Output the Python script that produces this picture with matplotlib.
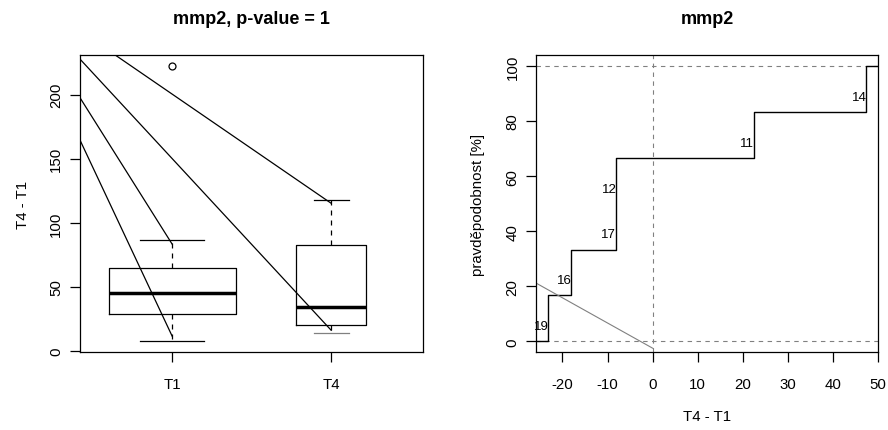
import matplotlib
matplotlib.use("Agg")
import matplotlib.pyplot as plt
import numpy as np

plt.rcParams['font.family'] = ['Liberation Sans', 'DejaVu Sans']

# ---- left panel data (boxplot) ----
groups = ["T1", "T4"]
whislo = [8.0, 14.0]
q1 = [28.8, 20.8]
med = [45.2, 34.3]
q3 = [65.2, 82.4]
whishi = [86.3, 118.0]
fliers = [[222.0], []]
box_widths = [0.8, 0.44]

# diagonal segments (x0, y0) -> (x1, y1)
seg_x0 = [0.42, 0.42, 0.42, 0.639]
seg_y0 = [164.5, 197.5, 227.6, 231.0]
seg_x1 = [1.0, 1.0, 2.0, 2.0]
seg_y1 = [11.7, 83.4, 16.4, 115.3]

# ---- right panel data (ECDF) ----
step_x = [-23.2, -18.05, -8.2, -8.07, 22.5, 47.4]
step_labels = ["19", "16", "17", "12", "11", "14"]
gray_x = [-25.8, 0.0]
gray_y = [21.1, -2.5]
xticks_r = [-20, -10, 0, 10, 20, 30, 40, 50]

fig = plt.figure(figsize=(8.88, 4.31), dpi=100)
W, H = 888, 431

def px_axes(x0, x1, y0, y1):
    return fig.add_axes([x0 / W, (H - y1) / H, (x1 - x0) / W, (y1 - y0) / H])

tick_fs = 10.8
title_fs = 13.0

# ================= left panel =================
ax1 = px_axes(80, 423.3, 56, 353)
stats = []
for i in range(len(groups)):
    stats.append(dict(label=groups[i], whislo=whislo[i], q1=q1[i], med=med[i],
                      q3=q3[i], whishi=whishi[i], fliers=fliers[i]))
bp = ax1.bxp(stats, positions=[1, 2], widths=box_widths,
             capwidths=[w / 2 for w in box_widths],
             boxprops=dict(color='black', linewidth=0.9),
             medianprops=dict(color='black', linewidth=2.5, solid_capstyle='butt'),
             whiskerprops=dict(color='black', linewidth=0.9, linestyle=(0, (4, 4))),
             capprops=dict(color='black', linewidth=0.9),
             flierprops=dict(marker='o', markerfacecolor='none',
                             markeredgecolor='black', markersize=5, markeredgewidth=0.9))
bp['caps'][2].set_color('#808080')
for a, b, c, d in zip(seg_x0, seg_y0, seg_x1, seg_y1):
    s = (d - b) / (c - a)
    xs = np.array([0.0, c])
    ys = b + s * (xs - a)
    ax1.plot(xs, ys, color='black', linewidth=0.9)
ax1.set_xlim(0.42, 2.58)
ax1.set_ylim(-0.6, 230.8)
ax1.set_yticks([0, 50, 100, 150, 200])
ax1.set_xticks([1, 2])
ax1.set_xticklabels(groups)
ax1.tick_params(axis='y', labelrotation=90, labelsize=tick_fs, length=7, width=0.9, pad=5)
ax1.tick_params(axis='x', labelsize=tick_fs, length=7, width=0.9, pad=11)
for lab in ax1.get_yticklabels():
    lab.set_va('center')
ax1.set_ylabel("T4 - T1", fontsize=tick_fs, labelpad=14)
ax1.set_title("mmp2, p-value = 1", fontsize=title_fs, fontweight='bold', pad=23)
for sp in ax1.spines.values():
    sp.set_linewidth(0.9)

# ================= right panel =================
ax2 = px_axes(536.3, 878, 56, 353.3)
n = len(step_x)
levels = [100.0 * (k + 1) / n for k in range(n)]
xl, xr = -25.8, 50.0
ax2.axhline(0, color='#808080', linestyle=(0, (4, 4)), linewidth=0.8)
ax2.axhline(100, color='#808080', linestyle=(0, (4, 4)), linewidth=0.8)
ax2.axvline(0, color='#808080', linestyle=(0, (4, 4)), linewidth=0.8)
xs = [xl] + step_x + [xr]
ys = [0.0] + levels + [100.0]
ax2.step(xs, ys, where='post', color='black', linewidth=1.0)
ax2.plot(gray_x, gray_y, color='#808080', linewidth=0.8)
prev = [0.0] + levels[:-1]
for sx, lv, lab in zip(step_x, prev, step_labels):
    ax2.text(sx - 1.5, lv + 5.5, lab, fontsize=9.5, ha='center', va='center')
ax2.set_xlim(xl, xr)
ax2.set_ylim(-4, 104)
ax2.set_xticks(xticks_r)
ax2.set_yticks([0, 20, 40, 60, 80, 100])
ax2.set_xticklabels([str(v) for v in xticks_r])
ax2.tick_params(axis='y', labelrotation=90, labelsize=tick_fs, length=7, width=0.9, pad=5)
ax2.tick_params(axis='x', labelsize=tick_fs, length=7, width=0.9, pad=11)
for lab in ax2.get_yticklabels():
    lab.set_va('center')
ax2.set_xlabel("T4 - T1", fontsize=tick_fs, labelpad=13)
ax2.set_ylabel("pravděpodobnost [%]", fontsize=tick_fs, labelpad=15)
ax2.set_title("mmp2", fontsize=title_fs, fontweight='bold', pad=23)
for sp in ax2.spines.values():
    sp.set_linewidth(0.9)

fig.savefig("out.png", dpi=100)
